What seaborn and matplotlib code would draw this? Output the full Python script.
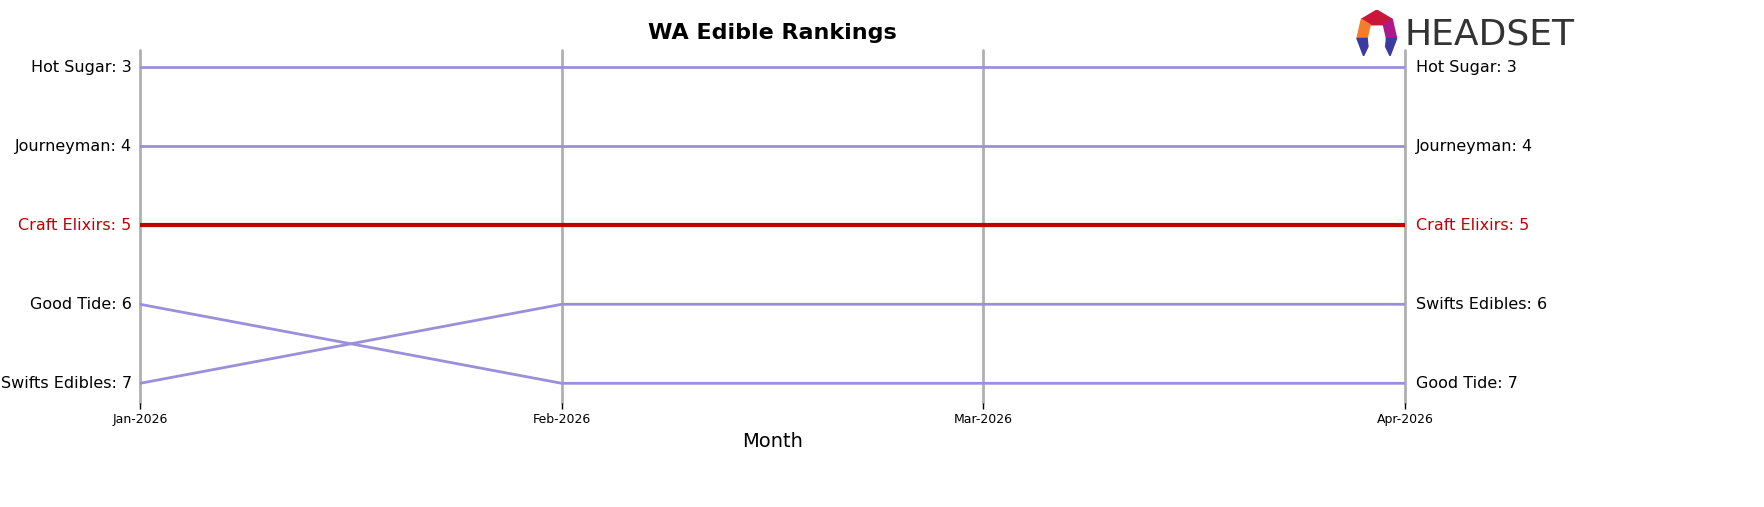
import matplotlib
matplotlib.use("Agg")
import matplotlib.pyplot as plt
from matplotlib.patches import Polygon
import pandas as pd
import seaborn as sns

months = ["Jan-2026", "Feb-2026", "Mar-2026", "Apr-2026"]
brands = ["Hot Sugar", "Journeyman", "Craft Elixirs", "Good Tide", "Swifts Edibles"]
ranks = {
    "Hot Sugar": [3, 3, 3, 3],
    "Journeyman": [4, 4, 4, 4],
    "Craft Elixirs": [5, 5, 5, 5],
    "Good Tide": [6, 7, 7, 7],
    "Swifts Edibles": [7, 6, 6, 6],
}
highlight = "Craft Elixirs"

rows = []
for b in brands:
    for i, m in enumerate(months):
        rows.append({"brand": b, "month": i, "rank": ranks[b][i]})
df = pd.DataFrame(rows)

sns.set_style("white")
plt.rcParams["text.color"] = "black"
plt.rcParams["axes.labelcolor"] = "black"
plt.rcParams["xtick.color"] = "black"
fig = plt.figure(figsize=(17.64, 5.07), dpi=100)
ax = fig.add_axes([0.0794, 0.205, 0.7171, 0.696])

for i in range(len(months)):
    ax.axvline(i, color="#b0b0b0", lw=2, zorder=0, clip_on=False)

others = df[df.brand != highlight]
sns.lineplot(data=others, x="month", y="rank", units="brand", estimator=None,
             color="#9b8fdb", lw=2, ax=ax, legend=False)
sns.lineplot(data=df[df.brand == highlight], x="month", y="rank",
             color="#c00000", lw=3, ax=ax, legend=False)

ax.set_xlim(0, len(months) - 1)
ax.set_ylim(7.25, 2.785)
ax.set_xticks(range(len(months)))
ax.set_xticklabels(months, fontsize=9)
ax.tick_params(axis="x", length=4, width=1, color="black", bottom=True)
ax.set_yticks([])
ax.set_ylabel("")
ax.set_xlabel("Month", fontsize=14)
for s in ax.spines.values():
    s.set_visible(False)

for b in brands:
    c = "#c00000" if b == highlight else "black"
    ax.text(-0.02, ranks[b][0], f"{b}: {ranks[b][0]}", ha="right", va="center", fontsize=11.5, color=c)
    ax.text(len(months) - 1 + 0.025, ranks[b][-1], f"{b}: {ranks[b][-1]}", ha="left", va="center", fontsize=11.5, color=c)

fig.text(0.438, 0.935, "WA Edible Rankings", ha="center", va="center", fontsize=16, fontweight="bold")

# logo
lx = fig.add_axes([0.768, 0.89, 0.025, 0.09])
lx.set_xlim(0, 1); lx.set_ylim(0, 1); lx.axis("off")
lx.add_patch(Polygon([[0.15, 0.8], [0.5, 1.0], [0.85, 0.8], [0.65, 0.68], [0.35, 0.68]], color="#c8173a"))
lx.add_patch(Polygon([[0.15, 0.8], [0.35, 0.68], [0.28, 0.38], [0.05, 0.38]], color="#f57c2a"))
lx.add_patch(Polygon([[0.85, 0.8], [0.65, 0.68], [0.72, 0.38], [0.95, 0.38]], color="#b0178c"))
lx.add_patch(Polygon([[0.05, 0.38], [0.28, 0.38], [0.3, 0.2], [0.2, 0.0]], color="#3a3aa0"))
lx.add_patch(Polygon([[0.95, 0.38], [0.72, 0.38], [0.7, 0.2], [0.8, 0.0]], color="#3a3aa0"))
fig.text(0.796, 0.932, "HEADSET", ha="left", va="center", fontsize=26, color="#333333")

fig.savefig("out.png", dpi=100)
